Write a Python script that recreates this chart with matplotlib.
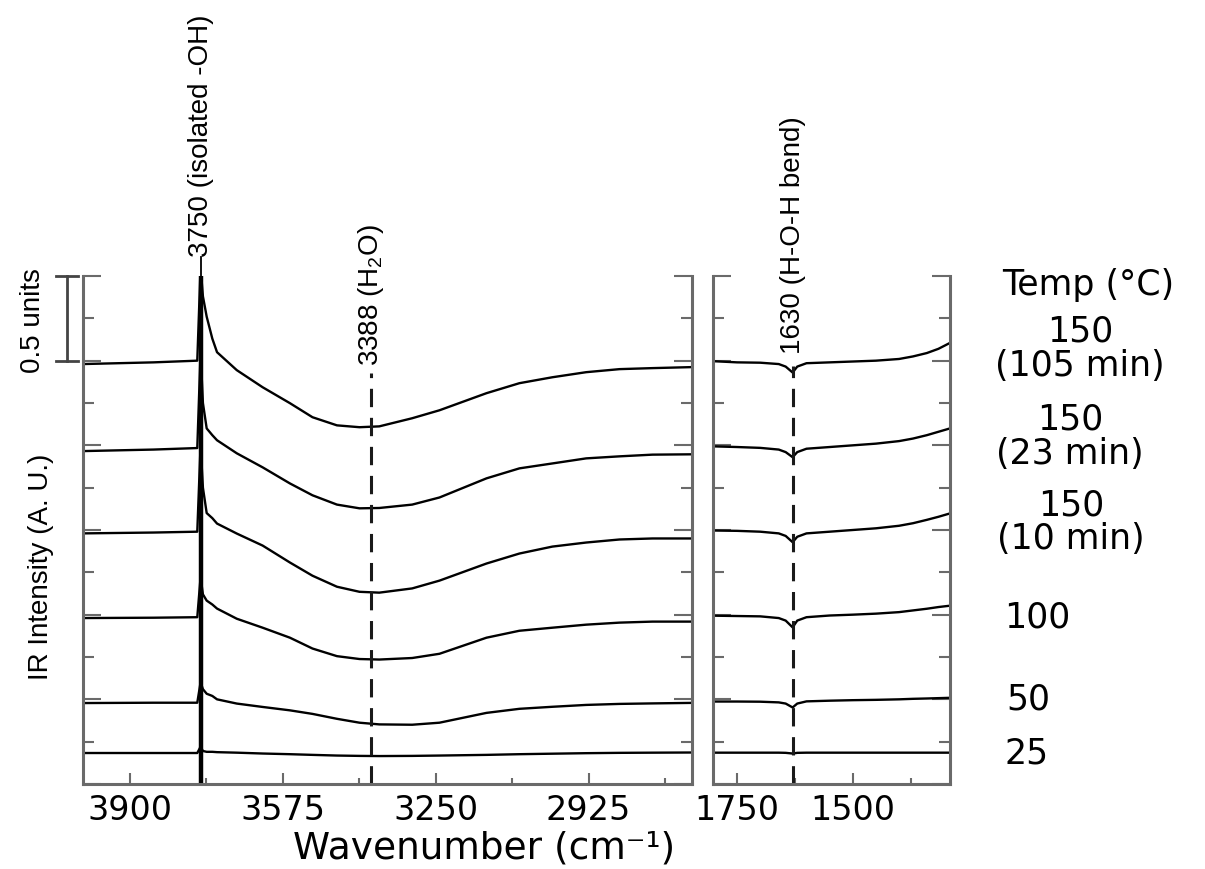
import matplotlib
matplotlib.use("Agg")
import matplotlib.pyplot as plt
import matplotlib.transforms as mtransforms

# ---------------- data ----------------
series_labels = ["150\n(105 min)", "150\n(23 min)", "150\n(10 min)", "100", "50", "25"]

wn_left = [4000, 3850, 3757, 3750, 3745, 3737, 3725, 3715, 3673, 3618, 3560, 3512,
           3460, 3412, 3370, 3300, 3242, 3142, 3072, 3002, 2930, 2859, 2789, 2705]

ir_105min = [2.48, 2.49, 2.50, 3.05, 2.88, 2.76, 2.63, 2.55, 2.444, 2.343, 2.249, 2.166,
             2.118, 2.107, 2.112, 2.160, 2.207, 2.308, 2.367, 2.402, 2.432, 2.450, 2.456, 2.462]
ir_23min = [1.966, 1.975, 1.984, 2.55, 2.25, 2.10, 2.06, 2.03, 1.953, 1.870, 1.775, 1.705,
            1.650, 1.628, 1.630, 1.650, 1.692, 1.805, 1.864, 1.893, 1.923, 1.935, 1.945, 1.947]
ir_10min = [1.48, 1.485, 1.49, 2.00, 1.75, 1.60, 1.57, 1.538, 1.479, 1.408, 1.308, 1.23,
            1.165, 1.135, 1.13, 1.155, 1.201, 1.302, 1.361, 1.402, 1.426, 1.444, 1.450, 1.450]
ir_100 = [0.98, 0.982, 0.985, 1.22, 1.12, 1.083, 1.06, 1.036, 0.976, 0.923, 0.864, 0.80,
          0.755, 0.738, 0.735, 0.744, 0.769, 0.864, 0.905, 0.923, 0.941, 0.953, 0.959, 0.959]
ir_50 = [0.478, 0.48, 0.48, 0.60, 0.56, 0.533, 0.52, 0.50, 0.475, 0.455, 0.435, 0.414,
         0.385, 0.362, 0.352, 0.350, 0.362, 0.420, 0.444, 0.456, 0.467, 0.473, 0.476, 0.479]
ir_25 = [0.183, 0.183, 0.183, 0.22, 0.195, 0.19, 0.19, 0.188, 0.185, 0.180, 0.176, 0.172,
         0.168, 0.166, 0.165, 0.166, 0.168, 0.172, 0.176, 0.179, 0.182, 0.184, 0.185, 0.186]

wn_right = [1802, 1750, 1700, 1660, 1645, 1630, 1620, 1600, 1550, 1500, 1450, 1400,
            1370, 1340, 1315, 1290]
ir_105min_r = [2.497, 2.49, 2.488, 2.48, 2.465, 2.43, 2.465, 2.485, 2.49, 2.495, 2.50, 2.51,
               2.525, 2.545, 2.57, 2.605]
ir_23min_r = [1.994, 1.99, 1.985, 1.975, 1.96, 1.93, 1.96, 1.98, 1.99, 2.0, 2.01, 2.025,
              2.04, 2.06, 2.08, 2.10]
ir_10min_r = [1.497, 1.495, 1.49, 1.48, 1.465, 1.428, 1.46, 1.48, 1.49, 1.50, 1.51, 1.525,
              1.54, 1.56, 1.578, 1.598]
ir_100_r = [0.994, 0.992, 0.99, 0.98, 0.965, 0.925, 0.965, 0.985, 0.995, 1.0, 1.006, 1.015,
            1.025, 1.035, 1.045, 1.053]
ir_50_r = [0.487, 0.487, 0.486, 0.482, 0.475, 0.452, 0.475, 0.488, 0.492, 0.495, 0.497, 0.5,
           0.503, 0.505, 0.507, 0.509]
ir_25_r = [0.185, 0.185, 0.185, 0.185, 0.184, 0.18, 0.184, 0.185, 0.185, 0.185, 0.185, 0.185,
           0.185, 0.185, 0.185, 0.185]

left_series = [ir_105min, ir_23min, ir_10min, ir_100, ir_50, ir_25]
right_series = [ir_105min_r, ir_23min_r, ir_10min_r, ir_100_r, ir_50_r, ir_25_r]

left_ticks = [3900, 3575, 3250, 2925]
left_minor = [3737.5, 3412.5, 3087.5, 2762.5]
right_ticks = [1750, 1500]
right_minor = [1625, 1375]

peak_oh, peak_h2o, peak_bend = 3750, 3388, 1630

# ---------------- figure ----------------
W, H = 1205, 869
fig = plt.figure(figsize=(W / 100, H / 100), dpi=100)
plt.rcParams['mathtext.default'] = 'regular'

def fx(px):
    return px / W

def fy(py):
    return 1 - py / H

axL = fig.add_axes([fx(83), fy(784), 609 / W, 508 / H])
axR = fig.add_axes([fx(713), fy(784), 237 / W, 508 / H])

spine_c = '#6a6a6a'
narrow = 'Liberation Sans'
wide = 'DejaVu Sans'

for ax, xl, maj, mnr in [(axL, (4000, 2705), left_ticks, left_minor),
                         (axR, (1802, 1290), right_ticks, right_minor)]:
    ax.set_xlim(*xl)
    ax.set_ylim(0, 3.0)
    ax.spines['top'].set_visible(False)
    for s in ['left', 'right', 'bottom']:
        ax.spines[s].set_color(spine_c)
        ax.spines[s].set_linewidth(2.2)
    ax.set_xticks(maj)
    ax.set_xticks(mnr, minor=True)
    ax.set_xticklabels([str(t) for t in maj], fontsize=24, family=wide)
    ax.set_yticks([0.5 * i for i in range(7)])
    ax.set_yticks([0.25 + 0.5 * i for i in range(6)], minor=True)
    ax.set_yticklabels([])
    ax.tick_params(axis='x', which='major', direction='in', length=8, width=1.5,
                   color=spine_c, pad=7, top=False)
    ax.tick_params(axis='x', which='minor', direction='in', length=4.5, width=1.5,
                   color=spine_c, top=False)
    ax.tick_params(axis='y', which='major', direction='in', length=13, width=1.5,
                   color=spine_c, left=True, right=True, labelleft=False)
    ax.tick_params(axis='y', which='minor', direction='in', length=8, width=1.5,
                   color=spine_c, left=True, right=True)

# curves
for ys in left_series:
    axL.plot(wn_left, ys, color='black', lw=1.7, solid_joinstyle='round')
for ys in right_series:
    axR.plot(wn_right, ys, color='black', lw=1.7, solid_joinstyle='round')

# 3750 marker line (solid) and label
axL.plot([peak_oh, peak_oh], [0, 3.0], color='black', lw=3.2)
axL.plot([peak_oh, peak_oh], [3.0, 3.11], color='black', lw=1.3, clip_on=False)
axL.text(peak_oh, 3.11, '3750 (isolated -OH)', rotation=90, ha='center', va='bottom',
         fontsize=20, family=narrow, clip_on=False)

# 3388 dashed line and label
axL.plot([peak_h2o, peak_h2o], [0, 2.43], color='#1a1a1a', lw=2.2, ls=(0, (6, 3.5)))
axL.text(peak_h2o, 2.47, '3388 (H$_2$O)', rotation=90, ha='center', va='bottom',
         fontsize=20, family=narrow, clip_on=False)

# 1630 dashed line and label
axR.plot([peak_bend, peak_bend], [0, 2.47], color='#1a1a1a', lw=2.2, ls=(0, (6, 3.5)))
axR.text(peak_bend, 2.54, '1630 (H-O-H bend)', rotation=90, ha='center', va='bottom',
         fontsize=20, family=narrow, clip_on=False)

# scale bar (0.5 units)
tr = mtransforms.blended_transform_factory(axL.transAxes, axL.transData)
xb = (67 - 83) / 609
cap = 11 / 609
axL.plot([xb, xb], [2.5, 3.0], color='#444444', lw=2, transform=tr, clip_on=False)
axL.plot([xb - cap, xb + cap], [3.0, 3.0], color='#444444', lw=2, transform=tr, clip_on=False)
axL.plot([xb - cap, xb + cap], [2.5, 2.5], color='#444444', lw=2, transform=tr, clip_on=False)

fig.text(fx(33), fy(321), '0.5 units', rotation=90, ha='center', va='center',
         fontsize=20, family=narrow)
fig.text(fx(41), fy(567), 'IR Intensity (A. U.)', rotation=90, ha='center', va='center',
         fontsize=20, family=narrow)

fig.text(fx(484), fy(848), 'Wavenumber (cm⁻¹)', ha='center', va='center',
         fontsize=27, family=wide)

# right-hand temperature labels
fig.text(fx(1088), fy(285), 'Temp (°C)', ha='center', va='center', fontsize=25,
         family=wide)
label_pos = [(1080, 349), (1070, 437), (1071, 522), (1037, 618), (1028, 699), (1027, 754)]
for lab, (px, py) in zip(series_labels, label_pos):
    fig.text(fx(px), fy(py), lab, ha='center', va='center', fontsize=25,
             family=wide, linespacing=1.0)

fig.savefig('out.png', dpi=100)
